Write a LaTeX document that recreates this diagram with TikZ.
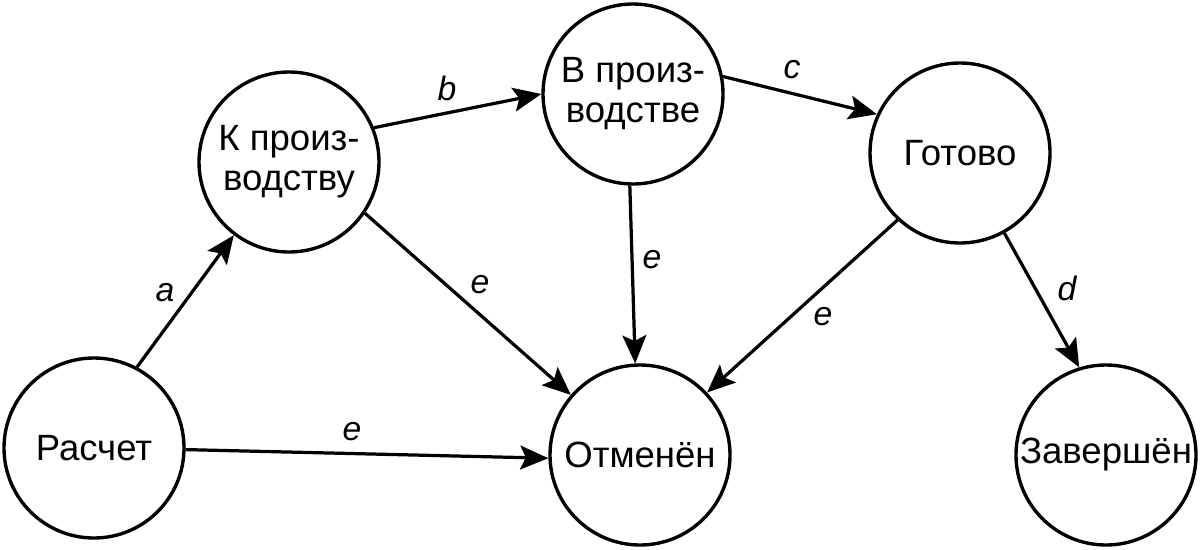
\documentclass[tikz,border=0pt]{standalone}
\usepackage{fontspec}
\setmainfont{Liberation Sans}
\usetikzlibrary{arrows.meta}

\begin{document}
\begin{tikzpicture}[
    stnode/.style={circle, draw, line width=2.4pt, minimum size=4.5cm, inner sep=0pt,
        align=center, font=\fontsize{26}{28.5}\selectfont},
    lbl/.style={font=\fontsize{24}{26}\selectfont\itshape},
    arr/.style={line width=2.3pt, -{Stealth[length=20pt, width=17pt, inset=4pt]}}
]
\useasboundingbox (0,0) rectangle (30,13.725);

\node [stnode] (R) at (2.35,2.525) {Расчет};
\node [stnode] (K) at (7.225,9.675) {К произ-\\водству};
\node [stnode] (V) at (15.825,11.375) {В произ-\\водстве};
\node [stnode] (G) at (24.0,9.9) {Готово};
\node [stnode] (O) at (16.0,2.35) {Отменён};
\node [stnode] (Z) at (27.65,2.35) {Завершён};

\draw [arr] (R.62) -- (K.233);
\draw [arr] (K.22) -- (V.180);
\draw [arr] (V.11) -- (G.155);
\draw [arr] (G.-61) -- (Z.107);
\draw [arr] (K.-34) -- (O.139);
\draw [arr] (V.268) -- (O.93);
\draw [arr] (G.227) -- (O.43);
\draw [arr] (R.-1) -- (O.182);

\node [lbl] (la) at (4.125,6.4) {a};
\node [lbl] (lb) at (11.175,11.525) {b};
\node [lbl] (lc) at (19.8,11.975) {c};
\node [lbl] (ld) at (26.675,6.525) {d};
\node [lbl] (le1) at (12.0,6.6) {e};
\node [lbl] (le2) at (16.3,7.225) {e};
\node [lbl] (le3) at (20.575,5.8) {e};
\node [lbl] (le4) at (8.8,2.925) {e};
\end{tikzpicture}
\end{document}
